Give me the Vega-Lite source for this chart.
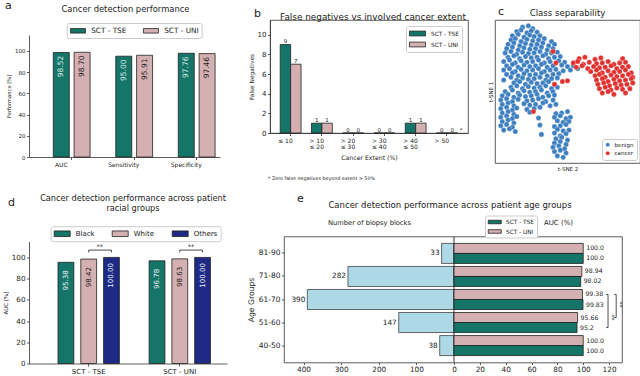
{
"$schema": "https://vega.github.io/schema/vega-lite/v6.json",
"autosize": {"type": "pad"},
"padding": {"left": 3, "top": 0, "right": 1, "bottom": 0},
"background": "white",
"config": {
  "font": "DejaVu Sans",
  "view": {"stroke": null},
  "axis": {"grid": false, "domainColor": "#333", "tickColor": "#333", "labelColor": "#222", "titleColor": "#222", "titleFontWeight": "normal", "domainWidth": 0.8, "tickWidth": 0.8, "tickSize": 2.5, "labelPadding": 1.5, "labelFlush": false, "labelOverlap": false, "titlePadding": 3},
  "axisX": {"labelAngle": 0},
  "legend": {"titleFontWeight": "normal", "labelColor": "#222", "strokeColor": "#cccccc", "fillColor": "white", "padding": 3, "cornerRadius": 2, "symbolStrokeColor": "#222", "symbolStrokeWidth": 0.8, "symbolOpacity": 1},
  "title": {"fontWeight": "normal", "color": "#222", "baseline": "alphabetic"}
},
"resolve": {"scale": {"color": "independent"}, "legend": {"color": "independent"}},
"spacing": 11.5,
"vconcat": [
 {"spacing": 27, "resolve": {"scale": {"color": "independent"}, "legend": {"color": "independent"}}, "hconcat": [
  {"title": {"text": "a", "anchor": "start", "frame": "group", "fontSize": 11, "offset": -6.7, "dx": -24},
   "resolve": {"scale": {"color": "independent"}, "legend": {"color": "independent"}},
   "vconcat": [
    {"width": 191, "height": 137,
     "title": {"text": "Cancer detection performance", "fontSize": 8.4, "offset": 7, "frame": "group", "dx": 1},
     "data": {"values": [
       {"metric": "AUC", "model": "SCT - TSE", "key": "AUC|TSE", "value": 98.52},
       {"metric": "AUC", "model": "SCT - UNI", "key": "AUC|UNI", "value": 98.70},
       {"metric": "Sensitivity", "model": "SCT - TSE", "key": "Sensitivity|TSE", "value": 95.00},
       {"metric": "Sensitivity", "model": "SCT - UNI", "key": "Sensitivity|UNI", "value": 95.91},
       {"metric": "Specificity", "model": "SCT - TSE", "key": "Specificity|TSE", "value": 97.76},
       {"metric": "Specificity", "model": "SCT - UNI", "key": "Specificity|UNI", "value": 97.46}
     ]},
     "encoding": {
       "x": {"field": "key", "type": "nominal", "scale": {"domain": ["AUC|TSE", "AUC|UNI", "s1", "Sensitivity|TSE", "Sensitivity|UNI", "s2", "Specificity|TSE", "Specificity|UNI"], "paddingInner": 0.232, "paddingOuter": 0.70, "align": 0.832}, "axis": {"title": null, "values": ["AUC|TSE", "Sensitivity|TSE", "Specificity|TSE"], "bandPosition": 1.15, "labelExpr": "split(datum.value, '|')[0]", "labelFontSize": 6}},
       "y": {"field": "value", "type": "quantitative", "scale": {"domain": [0, 115], "range": [137, 15], "nice": false}, "axis": {"title": "Performance [%]", "values": [0, 20, 40, 60, 80, 100], "labelFontSize": 5.5, "titleFontSize": 5.2}}
     },
     "layer": [
       {"mark": {"type": "bar", "stroke": "#222", "strokeWidth": 0.8},
        "encoding": {"color": {"field": "model", "type": "nominal", "scale": {"domain": ["SCT - TSE", "SCT - UNI"], "range": ["#167569", "#d5b0b2"]},
          "legend": {"orient": "none", "legendX": 37.7, "legendY": 3, "direction": "horizontal", "title": null, "symbolType": "M-1,-0.6H3V0.6H-1Z", "symbolSize": 56.25, "labelFontSize": 7.3, "columnPadding": 15, "labelOffset": 12.5}}}},
       {"mark": {"type": "text", "angle": 270, "align": "center", "baseline": "middle", "dx": -14, "fontSize": 7.5},
        "encoding": {"text": {"field": "value", "type": "quantitative", "format": ".2f"}, "color": {"condition": {"test": "datum.model === 'SCT - TSE'", "value": "#d9ebe7"}, "value": "#222"}}}
     ]
    }
   ]
  },
  {"spacing": 18, "resolve": {"scale": {"color": "independent"}, "legend": {"color": "independent"}}, "hconcat": [
   {"title": {"text": "b", "anchor": "start", "frame": "group", "fontSize": 11, "offset": -7, "dx": -16},
    "resolve": {"scale": {"color": "independent"}, "legend": {"color": "independent"}},
    "vconcat": [
     {"title": {"text": "* Zero false negatives beyond extent > 50%", "orient": "bottom", "anchor": "start", "frame": "group", "fontSize": 4.8, "offset": 15, "dx": -2},
      "resolve": {"scale": {"color": "independent"}, "legend": {"color": "independent"}},
      "vconcat": [
       {"width": 198, "height": 113,
        "view": {"stroke": "#333", "strokeWidth": 0.8},
        "title": {"text": "False negatives vs involved cancer extent", "fontSize": 8.9, "offset": -1.5, "frame": "group", "dx": 4},
        "data": {"values": [
          {"extent": "≤ 10", "model": "SCT - TSE", "key": "≤ 10|TSE", "fn": 9}, {"extent": "≤ 10", "model": "SCT - UNI", "key": "≤ 10|UNI", "fn": 7},
          {"extent": "> 10 ≤ 20", "model": "SCT - TSE", "key": "> 10 ≤ 20|TSE", "fn": 1}, {"extent": "> 10 ≤ 20", "model": "SCT - UNI", "key": "> 10 ≤ 20|UNI", "fn": 1},
          {"extent": "> 20 ≤ 30", "model": "SCT - TSE", "key": "> 20 ≤ 30|TSE", "fn": 0}, {"extent": "> 20 ≤ 30", "model": "SCT - UNI", "key": "> 20 ≤ 30|UNI", "fn": 0},
          {"extent": "> 30 ≤ 40", "model": "SCT - TSE", "key": "> 30 ≤ 40|TSE", "fn": 0}, {"extent": "> 30 ≤ 40", "model": "SCT - UNI", "key": "> 30 ≤ 40|UNI", "fn": 0},
          {"extent": "> 40 ≤ 50", "model": "SCT - TSE", "key": "> 40 ≤ 50|TSE", "fn": 1}, {"extent": "> 40 ≤ 50", "model": "SCT - UNI", "key": "> 40 ≤ 50|UNI", "fn": 1},
          {"extent": "> 50", "model": "SCT - TSE", "key": "> 50|TSE", "fn": 0}, {"extent": "> 50", "model": "SCT - UNI", "key": "> 50|UNI", "fn": 0}
        ]},
        "encoding": {
          "x": {"field": "key", "type": "nominal", "scale": {"domain": ["≤ 10|TSE", "≤ 10|UNI", "s1", "> 10 ≤ 20|TSE", "> 10 ≤ 20|UNI", "s2", "> 20 ≤ 30|TSE", "> 20 ≤ 30|UNI", "s3", "> 30 ≤ 40|TSE", "> 30 ≤ 40|UNI", "s4", "> 40 ≤ 50|TSE", "> 40 ≤ 50|UNI", "s5", "> 50|TSE", "> 50|UNI"], "paddingInner": 0, "paddingOuter": 1.47, "align": 0.49},
            "axis": {"title": "Cancer Extent (%)", "values": ["≤ 10|TSE", "> 10 ≤ 20|TSE", "> 20 ≤ 30|TSE", "> 30 ≤ 40|TSE", "> 40 ≤ 50|TSE", "> 50|TSE"], "bandPosition": 1, "labelFontSize": 6, "titleFontSize": 6.2, "labelExpr": "length(split(datum.value, '|')[0]) > 5 ? [slice(datum.value, 0, 4), slice(split(datum.value, '|')[0], 5)] : split(datum.value, '|')[0]", "labelLineHeight": 6.5, "labelBaseline": "top", "titlePadding": 5}},
          "y": {"field": "fn", "type": "quantitative", "scale": {"domain": [0, 11.5], "nice": false}, "axis": {"title": "False Negatives", "values": [0, 2, 4, 6, 8, 10], "labelFontSize": 7, "titleFontSize": 5.9}}
        },
        "layer": [
          {"mark": {"type": "bar", "stroke": "#222", "strokeWidth": 0.8},
           "encoding": {"color": {"field": "model", "type": "nominal", "scale": {"domain": ["SCT - TSE", "SCT - UNI"], "range": ["#167569", "#d5b0b2"]},
             "legend": {"orient": "none", "legendX": 136, "legendY": 6, "direction": "vertical", "title": null, "symbolType": "M-1,-0.6H3V0.6H-1Z", "symbolSize": 64, "labelFontSize": 5.8, "rowPadding": 2, "labelOffset": 13, "padding": 3}}}},
          {"mark": {"type": "text", "baseline": "alphabetic", "dy": -1.5, "fontSize": 5.5, "color": "#222"},
           "encoding": {"text": {"field": "fn", "type": "quantitative"}}},
          {"data": {"values": [{"key": "> 50|UNI", "fn": 0, "star": "*"}]},
           "mark": {"type": "text", "baseline": "alphabetic", "dx": 9, "dy": -1.5, "fontSize": 5.5, "color": "#222"},
           "encoding": {"text": {"field": "star"}}}
        ]
       }
      ]
     }
    ]
   },
   {"title": {"text": "c", "anchor": "start", "frame": "group", "fontSize": 11, "offset": -8, "dx": 3},
    "resolve": {"scale": {"color": "independent"}, "legend": {"color": "independent"}},
    "vconcat": [
     {"width": 145, "height": 143,
      "view": {"stroke": "#333", "strokeWidth": 0.8},
      "title": {"text": "Class separability", "fontSize": 8.6, "offset": 2, "frame": "group"},
      "data": {"values": [
{"u":19,"v":95,"k":"benign"},{"u":23,"v":96,"k":"benign"},{"u":26,"v":94,"k":"benign"},
{"u":15,"v":92,"k":"benign"},{"u":18,"v":93,"k":"benign"},{"u":22,"v":91,"k":"benign"},{"u":25,"v":92.5,"k":"benign"},{"u":29,"v":91.5,"k":"benign"},
{"u":12,"v":89,"k":"benign"},{"u":16,"v":90,"k":"benign"},{"u":20,"v":88,"k":"benign"},{"u":24,"v":89.5,"k":"benign"},{"u":27,"v":88.5,"k":"benign"},{"u":31,"v":89,"k":"benign"},
{"u":11,"v":86,"k":"benign"},{"u":14,"v":87,"k":"benign"},{"u":18,"v":85,"k":"benign"},{"u":22,"v":86.5,"k":"benign"},{"u":26,"v":85.5,"k":"benign"},{"u":30,"v":86,"k":"benign"},{"u":34,"v":87,"k":"benign"},{"u":39,"v":85,"k":"benign"},
{"u":9,"v":83,"k":"benign"},{"u":13,"v":84,"k":"benign"},{"u":17,"v":82,"k":"benign"},{"u":21,"v":83.5,"k":"benign"},{"u":25,"v":82.5,"k":"benign"},{"u":29,"v":83,"k":"benign"},{"u":33,"v":84,"k":"benign"},{"u":37,"v":82,"k":"benign"},{"u":41,"v":83,"k":"benign"},
{"u":8,"v":80,"k":"benign"},{"u":12,"v":81,"k":"benign"},{"u":16,"v":79,"k":"benign"},{"u":20,"v":80.5,"k":"benign"},{"u":24,"v":79.5,"k":"benign"},{"u":28,"v":80,"k":"benign"},{"u":32,"v":81,"k":"benign"},{"u":36,"v":79,"k":"benign"},{"u":40,"v":80,"k":"benign"},
{"u":7,"v":77,"k":"benign"},{"u":11,"v":78,"k":"benign"},{"u":15,"v":76,"k":"benign"},{"u":19,"v":77.5,"k":"benign"},{"u":23,"v":76.5,"k":"benign"},{"u":27,"v":77,"k":"benign"},{"u":31,"v":78,"k":"benign"},{"u":35,"v":76,"k":"benign"},{"u":39,"v":77,"k":"benign"},{"u":43,"v":77.5,"k":"benign"},
{"u":9,"v":74,"k":"benign"},{"u":13,"v":75,"k":"benign"},{"u":17,"v":73,"k":"benign"},{"u":21,"v":74.5,"k":"benign"},{"u":25,"v":73.5,"k":"benign"},{"u":29,"v":74,"k":"benign"},{"u":33,"v":75,"k":"benign"},{"u":37,"v":73,"k":"benign"},{"u":41,"v":74,"k":"benign"},{"u":45,"v":74.5,"k":"benign"},
{"u":6,"v":71,"k":"benign"},{"u":10,"v":72,"k":"benign"},{"u":14,"v":70,"k":"benign"},{"u":18,"v":71.5,"k":"benign"},{"u":22,"v":70.5,"k":"benign"},{"u":26,"v":71,"k":"benign"},{"u":30,"v":72,"k":"benign"},{"u":34,"v":70,"k":"benign"},{"u":38,"v":71,"k":"benign"},{"u":44,"v":71.5,"k":"benign"},{"u":48,"v":70.5,"k":"benign"},
{"u":8,"v":68,"k":"benign"},{"u":12,"v":69,"k":"benign"},{"u":16,"v":67,"k":"benign"},{"u":20,"v":68.5,"k":"benign"},{"u":24,"v":67.5,"k":"benign"},{"u":28,"v":68,"k":"benign"},{"u":32,"v":69,"k":"benign"},{"u":36,"v":67,"k":"benign"},{"u":40,"v":68,"k":"benign"},{"u":46,"v":68.5,"k":"benign"},{"u":50,"v":67.5,"k":"benign"},{"u":54,"v":68,"k":"benign"},
{"u":6,"v":65,"k":"benign"},{"u":10,"v":66,"k":"benign"},{"u":14,"v":64,"k":"benign"},{"u":18,"v":65.5,"k":"benign"},{"u":22,"v":64.5,"k":"benign"},{"u":26,"v":65,"k":"benign"},{"u":30,"v":66,"k":"benign"},{"u":34,"v":64,"k":"benign"},{"u":38,"v":65,"k":"benign"},{"u":42,"v":65.5,"k":"benign"},{"u":47,"v":64.5,"k":"benign"},{"u":52,"v":65,"k":"benign"},{"u":57,"v":66,"k":"benign"},
{"u":8,"v":62,"k":"benign"},{"u":12,"v":63,"k":"benign"},{"u":16,"v":61,"k":"benign"},{"u":20,"v":62.5,"k":"benign"},{"u":24,"v":61.5,"k":"benign"},{"u":28,"v":62,"k":"benign"},{"u":32,"v":63,"k":"benign"},{"u":36,"v":61,"k":"benign"},{"u":40,"v":62,"k":"benign"},{"u":44,"v":62.5,"k":"benign"},
{"u":6,"v":58,"k":"benign"},{"u":11,"v":60,"k":"benign"},{"u":15,"v":58,"k":"benign"},{"u":19,"v":59.5,"k":"benign"},{"u":23,"v":58.5,"k":"benign"},{"u":27,"v":59,"k":"benign"},{"u":31,"v":60,"k":"benign"},{"u":35,"v":58,"k":"benign"},{"u":39,"v":59,"k":"benign"},{"u":43,"v":59.5,"k":"benign"},
{"u":13,"v":56,"k":"benign"},{"u":17,"v":57,"k":"benign"},{"u":21,"v":55,"k":"benign"},{"u":25,"v":56.5,"k":"benign"},{"u":29,"v":55.5,"k":"benign"},{"u":33,"v":56,"k":"benign"},{"u":37,"v":57,"k":"benign"},{"u":41,"v":55,"k":"benign"},
{"u":11,"v":53,"k":"benign"},{"u":15,"v":54,"k":"benign"},{"u":19,"v":52,"k":"benign"},{"u":23,"v":53.5,"k":"benign"},{"u":27,"v":52.5,"k":"benign"},{"u":31,"v":53,"k":"benign"},{"u":35,"v":54,"k":"benign"},{"u":39,"v":52,"k":"benign"},{"u":43,"v":53,"k":"benign"},
{"u":7,"v":50,"k":"benign"},{"u":12,"v":51,"k":"benign"},{"u":16,"v":49,"k":"benign"},{"u":20,"v":50.5,"k":"benign"},{"u":24,"v":49.5,"k":"benign"},{"u":28,"v":50,"k":"benign"},{"u":32,"v":51,"k":"benign"},{"u":36,"v":49,"k":"benign"},{"u":40,"v":50,"k":"benign"},
{"u":5,"v":47,"k":"benign"},{"u":9,"v":48,"k":"benign"},{"u":13,"v":46,"k":"benign"},{"u":17,"v":47.5,"k":"benign"},{"u":21,"v":46.5,"k":"benign"},{"u":25,"v":47,"k":"benign"},{"u":29,"v":48,"k":"benign"},{"u":33,"v":46,"k":"benign"},{"u":37,"v":47,"k":"benign"},{"u":41,"v":47.5,"k":"benign"},
{"u":4,"v":44,"k":"benign"},{"u":8,"v":45,"k":"benign"},{"u":12,"v":43,"k":"benign"},{"u":16,"v":44.5,"k":"benign"},{"u":22,"v":43.5,"k":"benign"},{"u":26,"v":44,"k":"benign"},{"u":30,"v":45,"k":"benign"},{"u":35,"v":43,"k":"benign"},{"u":40,"v":44,"k":"benign"},
{"u":5,"v":41,"k":"benign"},{"u":9,"v":42,"k":"benign"},{"u":13,"v":40,"k":"benign"},{"u":20,"v":41.5,"k":"benign"},{"u":24,"v":40.5,"k":"benign"},{"u":28,"v":41,"k":"benign"},{"u":33,"v":42,"k":"benign"},{"u":38,"v":40,"k":"benign"},{"u":42,"v":41,"k":"benign"},
{"u":4,"v":38,"k":"benign"},{"u":8,"v":39,"k":"benign"},{"u":12,"v":37,"k":"benign"},{"u":15,"v":38.5,"k":"benign"},{"u":22,"v":37.5,"k":"benign"},{"u":27,"v":38,"k":"benign"},{"u":31,"v":39,"k":"benign"},
{"u":5,"v":35,"k":"benign"},{"u":9,"v":36,"k":"benign"},{"u":13,"v":34,"k":"benign"},{"u":24,"v":35.5,"k":"benign"},{"u":42,"v":34.5,"k":"benign"},{"u":46,"v":35,"k":"benign"},{"u":50,"v":36,"k":"benign"},
{"u":4,"v":32,"k":"benign"},{"u":8,"v":33,"k":"benign"},{"u":12,"v":31,"k":"benign"},{"u":15,"v":32.5,"k":"benign"},{"u":30,"v":31.5,"k":"benign"},{"u":41,"v":32,"k":"benign"},{"u":45,"v":33,"k":"benign"},{"u":49,"v":31,"k":"benign"},{"u":52,"v":32,"k":"benign"},
{"u":5,"v":29,"k":"benign"},{"u":9,"v":30,"k":"benign"},{"u":13,"v":28,"k":"benign"},{"u":43,"v":29.5,"k":"benign"},{"u":47,"v":28.5,"k":"benign"},{"u":51,"v":29,"k":"benign"},
{"u":4,"v":26,"k":"benign"},{"u":8,"v":27,"k":"benign"},{"u":12,"v":25,"k":"benign"},{"u":31,"v":26.5,"k":"benign"},{"u":41,"v":25.5,"k":"benign"},{"u":45,"v":26,"k":"benign"},{"u":49,"v":27,"k":"benign"},
{"u":6,"v":23,"k":"benign"},{"u":10,"v":24,"k":"benign"},{"u":14,"v":22,"k":"benign"},{"u":43,"v":23.5,"k":"benign"},{"u":47,"v":22.5,"k":"benign"},{"u":51,"v":23,"k":"benign"},
{"u":32,"v":20,"k":"benign"},{"u":41,"v":21,"k":"benign"},{"u":45,"v":19,"k":"benign"},{"u":49,"v":20.5,"k":"benign"},
{"u":42,"v":17,"k":"benign"},{"u":46,"v":18,"k":"benign"},{"u":50,"v":16,"k":"benign"},
{"u":41,"v":14,"k":"benign"},{"u":45,"v":15,"k":"benign"},{"u":49,"v":13,"k":"benign"},
{"u":40,"v":11,"k":"benign"},{"u":44,"v":12,"k":"benign"},{"u":48,"v":10,"k":"benign"},
{"u":41,"v":8,"k":"benign"},{"u":45,"v":9,"k":"benign"},{"u":49,"v":7,"k":"benign"},
{"u":43,"v":5,"k":"benign"},{"u":47,"v":4,"k":"benign"},
{"u":58,"v":73,"k":"cancer"},{"u":62,"v":74,"k":"cancer"},{"u":69,"v":72.5,"k":"cancer"},{"u":73,"v":73.5,"k":"cancer"},{"u":88,"v":73,"k":"cancer"},
{"u":54,"v":70,"k":"cancer"},{"u":57,"v":71,"k":"cancer"},{"u":61,"v":69,"k":"cancer"},{"u":65,"v":70.5,"k":"cancer"},{"u":70,"v":69.5,"k":"cancer"},{"u":74,"v":70,"k":"cancer"},{"u":78,"v":71,"k":"cancer"},{"u":82,"v":69,"k":"cancer"},{"u":86,"v":70,"k":"cancer"},{"u":90,"v":70.5,"k":"cancer"},
{"u":56,"v":67,"k":"cancer"},{"u":60,"v":68,"k":"cancer"},{"u":64,"v":66,"k":"cancer"},{"u":68,"v":67.5,"k":"cancer"},{"u":72,"v":66.5,"k":"cancer"},{"u":76,"v":67,"k":"cancer"},{"u":80,"v":68,"k":"cancer"},{"u":84,"v":66,"k":"cancer"},{"u":88,"v":67,"k":"cancer"},{"u":92,"v":67.5,"k":"cancer"},
{"u":66,"v":64,"k":"cancer"},{"u":70,"v":65,"k":"cancer"},{"u":74,"v":63,"k":"cancer"},{"u":78,"v":64.5,"k":"cancer"},{"u":82,"v":63.5,"k":"cancer"},{"u":86,"v":64,"k":"cancer"},{"u":90,"v":65,"k":"cancer"},{"u":94,"v":63,"k":"cancer"},
{"u":69,"v":61,"k":"cancer"},{"u":72,"v":62,"k":"cancer"},{"u":76,"v":60,"k":"cancer"},{"u":80,"v":61.5,"k":"cancer"},{"u":84,"v":60.5,"k":"cancer"},{"u":88,"v":61,"k":"cancer"},{"u":92,"v":62,"k":"cancer"},{"u":95,"v":60,"k":"cancer"},
{"u":70,"v":58,"k":"cancer"},{"u":74,"v":59,"k":"cancer"},{"u":78,"v":57,"k":"cancer"},{"u":82,"v":58.5,"k":"cancer"},{"u":86,"v":57.5,"k":"cancer"},{"u":90,"v":58,"k":"cancer"},{"u":94,"v":59,"k":"cancer"},
{"u":71,"v":55,"k":"cancer"},{"u":75,"v":56,"k":"cancer"},{"u":79,"v":54,"k":"cancer"},{"u":83,"v":55.5,"k":"cancer"},{"u":87,"v":54.5,"k":"cancer"},{"u":91,"v":55,"k":"cancer"},{"u":95,"v":56,"k":"cancer"},
{"u":72,"v":52,"k":"cancer"},{"u":76,"v":53,"k":"cancer"},{"u":80,"v":51,"k":"cancer"},{"u":84,"v":52.5,"k":"cancer"},{"u":88,"v":51.5,"k":"cancer"},{"u":93,"v":52,"k":"cancer"},
{"u":74,"v":49,"k":"cancer"},{"u":78,"v":50,"k":"cancer"},{"u":82,"v":48,"k":"cancer"},{"u":90,"v":49,"k":"cancer"},
{"u":40,"v":78,"k":"cancer"},{"u":42,"v":70,"k":"cancer"},{"u":46.5,"v":57,"k":"cancer"},{"u":50,"v":57.5,"k":"cancer"},{"u":26.5,"v":36,"k":"cancer"},{"u":41,"v":55,"k":"cancer"}
      ]},
      "mark": {"type": "point", "filled": true, "size": 26, "stroke": "white", "strokeWidth": 0.3, "opacity": 1},
      "encoding": {
        "x": {"field": "u", "type": "quantitative", "scale": {"domain": [0, 100], "nice": false}, "axis": {"title": "t-SNE 2", "labels": false, "ticks": false, "domain": false, "titleFontSize": 5.5, "titlePadding": 3}},
        "y": {"field": "v", "type": "quantitative", "scale": {"domain": [0, 100], "nice": false}, "axis": {"title": "t-SNE 1", "labels": false, "ticks": false, "domain": false, "titleFontSize": 5.5, "titlePadding": 2}},
        "color": {"field": "k", "type": "nominal", "scale": {"domain": ["benign", "cancer"], "range": ["#3d7fc1", "#e1302d"]},
          "legend": {"orient": "bottom-right", "offset": 3, "title": null, "labelFontSize": 5.5, "symbolSize": 18, "symbolType": "circle", "padding": 3, "rowPadding": 1.5, "symbolStrokeColor": "white", "symbolStrokeWidth": 0.3, "labelOffset": 4}}
      }
     }
    ]
   }
  ]}
 ]},
 {"spacing": 19, "resolve": {"scale": {"color": "independent"}, "legend": {"color": "independent"}}, "hconcat": [
  {"title": {"text": "d", "anchor": "start", "frame": "group", "fontSize": 11, "offset": -14.3, "dx": -21},
   "resolve": {"scale": {"color": "independent"}, "legend": {"color": "independent"}},
   "vconcat": [
    {"width": 198, "height": 127,
     "title": {"text": ["Cancer detection performance across patient", "racial groups"], "fontSize": 8.2, "lineHeight": 10, "offset": 12.7, "frame": "group", "dx": 5},
     "encoding": {
       "x": {"field": "key", "type": "nominal", "scale": {"domain": ["SCT - TSE|Black", "SCT - TSE|White", "SCT - TSE|Others", "s1", "SCT - UNI|Black", "SCT - UNI|White", "SCT - UNI|Others"], "paddingInner": 0.305, "paddingOuter": 1.092, "align": 0.637},
         "axis": {"title": null, "values": ["SCT - TSE|White", "SCT - UNI|White"], "bandPosition": 0.5, "labelExpr": "split(datum.value, '|')[0]", "labelFontSize": 7}},
       "y": {"field": "auc", "type": "quantitative", "scale": {"domain": [0, 115], "range": [127, 5], "nice": false}, "axis": {"title": "AUC [%]", "values": [0, 20, 40, 60, 80, 100], "labelFontSize": 7.2, "titleFontSize": 5.5}}
     },
     "layer": [
       {"data": {"values": [
         {"group": "SCT - TSE", "race": "Black", "key": "SCT - TSE|Black", "auc": 95.38},
         {"group": "SCT - TSE", "race": "White", "key": "SCT - TSE|White", "auc": 98.42},
         {"group": "SCT - TSE", "race": "Others", "key": "SCT - TSE|Others", "auc": 100.00},
         {"group": "SCT - UNI", "race": "Black", "key": "SCT - UNI|Black", "auc": 96.78},
         {"group": "SCT - UNI", "race": "White", "key": "SCT - UNI|White", "auc": 98.63},
         {"group": "SCT - UNI", "race": "Others", "key": "SCT - UNI|Others", "auc": 100.00}
        ]},
        "layer": [
          {"mark": {"type": "bar", "stroke": "#222", "strokeWidth": 0.8},
           "encoding": {"color": {"field": "race", "type": "nominal", "scale": {"domain": ["Black", "White", "Others"], "range": ["#167569", "#d5b0b2", "#1e2a85"]},
             "legend": {"orient": "none", "legendX": 21.7, "legendY": -10.3, "direction": "horizontal", "title": null, "symbolType": "M-1,-0.7H3V0.7H-1Z", "symbolSize": 64, "labelFontSize": 7, "columnPadding": 15, "labelOffset": 13}}}},
          {"mark": {"type": "text", "angle": 270, "align": "center", "baseline": "middle", "dx": -18, "fontSize": 7.1},
           "encoding": {"text": {"field": "auc", "type": "quantitative", "format": ".2f"}, "color": {"condition": {"test": "datum.race === 'White'", "value": "#222"}, "value": "#e8eef5"}}}
        ]
       },
       {"data": {"values": [
         {"group": "SCT - TSE", "key": "SCT - TSE|White", "auc": 104.7, "o": 1},
         {"group": "SCT - TSE", "key": "SCT - TSE|White", "auc": 106.9, "o": 2},
         {"group": "SCT - TSE", "key": "SCT - TSE|Others", "auc": 106.9, "o": 3},
         {"group": "SCT - TSE", "key": "SCT - TSE|Others", "auc": 104.7, "o": 4},
         {"group": "SCT - UNI", "key": "SCT - UNI|White", "auc": 104.7, "o": 1},
         {"group": "SCT - UNI", "key": "SCT - UNI|White", "auc": 106.9, "o": 2},
         {"group": "SCT - UNI", "key": "SCT - UNI|Others", "auc": 106.9, "o": 3},
         {"group": "SCT - UNI", "key": "SCT - UNI|Others", "auc": 104.7, "o": 4}
        ]},
        "mark": {"type": "line", "stroke": "#222", "strokeWidth": 0.8},
        "encoding": {"detail": {"field": "group"}, "order": {"field": "o", "type": "quantitative"}}
       },
       {"data": {"values": [
         {"key": "SCT - TSE|White", "auc": 106.9},
         {"key": "SCT - UNI|White", "auc": 106.9}
        ]},
        "mark": {"type": "text", "baseline": "alphabetic", "dx": 11.1, "dy": -1.5, "fontSize": 6.5, "color": "#222"},
        "encoding": {"text": {"value": "**"}}
       }
     ]
    }
   ]
  },
  {"title": {"text": "e", "anchor": "start", "frame": "group", "fontSize": 11, "offset": -3.5, "dx": 13},
   "resolve": {"scale": {"color": "independent"}, "legend": {"color": "independent"}},
   "vconcat": [
    {"width": 338, "height": 126,
     "view": {"stroke": "#333", "strokeWidth": 0.8},
     "title": {"text": "Cancer detection performance across patient age groups", "fontSize": 8.5, "offset": 5.7, "frame": "group", "dx": -3},
     "resolve": {"scale": {"x": "independent"}, "axis": {"x": "independent"}},
     "layer": [
       {"encoding": {"x": {"field": "n", "type": "quantitative", "scale": {"domain": [0, 452], "range": [170, 0], "nice": false}, "axis": {"orient": "bottom", "values": [100, 200, 300, 400], "domain": false, "title": "Number of biopsy blocks", "titleFontSize": 6.7, "titleY": -140, "titleBaseline": "middle", "labelFontSize": 7.3, "tickSize": 2, "labelPadding": 1}}},
        "layer": [
          {"data": {"values": [
            {"age": "81-90", "n": 33}, {"age": "71-80", "n": 282}, {"age": "61-70", "n": 390}, {"age": "51-60", "n": 147}, {"age": "40-50", "n": 38}
           ]},
           "encoding": {"y": {"field": "age", "type": "nominal", "sort": ["81-90", "71-80", "61-70", "51-60", "40-50"], "scale": {"paddingInner": 0.13, "paddingOuter": 0.3}, "axis": {"title": "Age Groups", "labelFontSize": 7.5, "titleFontSize": 7.7, "tickSize": 2.5, "domain": false}}},
           "layer": [
             {"mark": {"type": "bar", "color": "#add8e6", "stroke": "#444", "strokeWidth": 0.8}},
             {"mark": {"type": "text", "align": "right", "baseline": "middle", "dx": -2, "fontSize": 7.3, "color": "#222"}, "encoding": {"text": {"field": "n", "type": "quantitative"}}}
           ]
          },
          {"data": {"values": [{"n": 0}]}, "mark": {"type": "rule", "stroke": "#222", "strokeWidth": 0.9}, "encoding": {}}
        ]
       },
       {"data": {"values": [
          {"age": "81-90", "model": "SCT - UNI", "auc": 100, "label": "100.0"},
          {"age": "81-90", "model": "SCT - TSE", "auc": 100, "label": "100.0"},
          {"age": "71-80", "model": "SCT - UNI", "auc": 98.94, "label": "98.94"},
          {"age": "71-80", "model": "SCT - TSE", "auc": 98.02, "label": "98.02"},
          {"age": "61-70", "model": "SCT - UNI", "auc": 99.38, "label": "99.38"},
          {"age": "61-70", "model": "SCT - TSE", "auc": 99.83, "label": "99.83"},
          {"age": "51-60", "model": "SCT - UNI", "auc": 95.66, "label": "95.66"},
          {"age": "51-60", "model": "SCT - TSE", "auc": 95.2, "label": "95.2"},
          {"age": "40-50", "model": "SCT - UNI", "auc": 100, "label": "100.0"},
          {"age": "40-50", "model": "SCT - TSE", "auc": 100, "label": "100.0"}
        ]},
        "encoding": {
          "x": {"field": "auc", "type": "quantitative", "scale": {"domain": [0, 130], "range": [170, 338], "nice": false}, "axis": {"orient": "bottom", "values": [0, 20, 40, 60, 80, 100, 120], "domain": false, "title": "AUC (%)", "titleFontSize": 7, "titleY": -140, "titleX": 274, "titleBaseline": "middle", "labelFontSize": 7.3, "tickSize": 2, "labelPadding": 1}},
          "y": {"field": "age", "type": "nominal", "sort": ["81-90", "71-80", "61-70", "51-60", "40-50"], "scale": {"paddingInner": 0.13, "paddingOuter": 0.3}, "axis": {"title": "Age Groups", "labelFontSize": 7.5, "titleFontSize": 7.7, "tickSize": 2.5, "domain": false}},
          "yOffset": {"field": "model", "type": "nominal", "scale": {"domain": ["SCT - UNI", "SCT - TSE"], "paddingInner": 0, "paddingOuter": 0}}
        },
        "layer": [
          {"mark": {"type": "bar", "stroke": "#222", "strokeWidth": 0.8},
           "encoding": {"color": {"field": "model", "type": "nominal", "scale": {"domain": ["SCT - TSE", "SCT - UNI"], "range": ["#167569", "#d5b0b2"]},
             "legend": {"orient": "none", "legendX": 201, "legendY": -21, "direction": "vertical", "title": null, "symbolType": "M-1,-0.54H3V0.54H-1Z", "symbolSize": 42.25, "labelFontSize": 5.8, "rowPadding": 1.5, "labelOffset": 10.5, "padding": 2.5}}}},
          {"mark": {"type": "text", "align": "left", "baseline": "middle", "dx": 3, "fontSize": 6.2, "color": "#222"},
           "encoding": {"text": {"field": "label"}}},
          {"data": {"values": [
            {"id": "A", "age": "61-70", "model": "SCT - UNI", "auc": 124, "o": 1},
            {"id": "A", "age": "61-70", "model": "SCT - UNI", "auc": 125.5, "o": 2},
            {"id": "A", "age": "51-60", "model": "SCT - UNI", "auc": 125.5, "o": 3},
            {"id": "A", "age": "51-60", "model": "SCT - UNI", "auc": 124, "o": 4},
            {"id": "B", "age": "61-70", "model": "SCT - UNI", "auc": 117.7, "o": 1},
            {"id": "B", "age": "61-70", "model": "SCT - UNI", "auc": 119.2, "o": 2},
            {"id": "B", "age": "51-60", "model": "SCT - TSE", "auc": 119.2, "o": 3},
            {"id": "B", "age": "51-60", "model": "SCT - TSE", "auc": 117.7, "o": 4}
           ]},
           "mark": {"type": "line", "stroke": "#222", "strokeWidth": 0.8},
           "encoding": {"detail": {"field": "id"}, "order": {"field": "o", "type": "quantitative"}}},
          {"data": {"values": [
            {"age": "61-70", "model": "SCT - TSE", "auc": 125.5},
            {"age": "51-60", "model": "SCT - UNI", "auc": 119.2}
           ]},
           "mark": {"type": "text", "angle": 90, "align": "center", "baseline": "bottom", "dy": -1, "fontSize": 6, "color": "#222"},
           "encoding": {"text": {"value": "**"}}}
        ]
       }
     ]
    }
   ]
  }
 ]}
]
}
